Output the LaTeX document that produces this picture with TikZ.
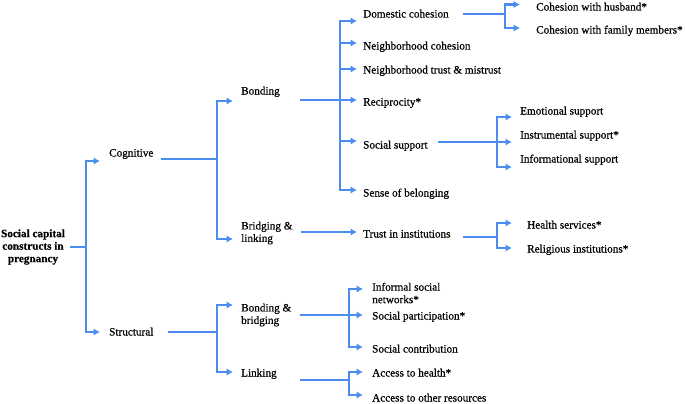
\documentclass[tikz,border=0pt]{standalone}
\usepackage{fontspec}
\setmainfont{Liberation Serif}[FakeBold=0.6]
\usetikzlibrary{arrows.meta}

\definecolor{linkblue}{RGB}{74,141,239}

\tikzset{
    item/.style={anchor=west, inner sep=0pt, text height=7.5pt, text depth=2.5pt, font=\fontsize{11.2}{12.5}\selectfont},
    items/.style={anchor=west, inner sep=0pt, align=left, font=\fontsize{11.2}{12.5}\selectfont},
    root/.style={align=center, inner sep=0pt, font=\bfseries\fontsize{11.2}{12.5}\selectfont},
    trunk/.style={draw=linkblue, line width=2.3pt, shorten <=#1},
    trunk/.default=7pt,
    branch/.style={draw=linkblue, line width=2.3pt, -{Latex[length=6.5pt,width=7.5pt]}},
}

\begin{document}
\begin{tikzpicture}[x=1pt, y=-1pt]
    \useasboundingbox (0,0) rectangle (685,404);

    % constructs
    \node[root] (scc) at (33,247) {Social capital\\constructs in\\pregnancy};
    \node[item] (cog) at (109,154) {Cognitive};
    \node[item] (struc) at (109,333) {Structural};

    \node[item] (bond) at (241,92) {Bonding};
    \node[items] (bridge) at (241,233) {Bridging \&\\linking};
    \node[items] (bondbr) at (241,315) {Bonding \&\\bridging};
    \node[item] (link) at (241,374) {Linking};

    \node[item] (dom) at (363,15) {Domestic cohesion};
    \node[item] (nbcoh) at (363,47) {Neighborhood cohesion};
    \node[item] (nbtrust) at (363,71) {Neighborhood trust \& mistrust};
    \node[item] (recip) at (363,103) {Reciprocity*};
    \node[item] (socsup) at (363,146) {Social support};
    \node[item] (belong) at (363,194) {Sense of belonging};
    \node[item] (trust) at (363,235) {Trust in institutions};
    \node[items] (informal) at (372,293) {Informal social\\networks*};
    \node[item] (partic) at (372,317) {Social participation*};
    \node[item] (contrib) at (372,350) {Social contribution};
    \node[item] (acchealth) at (372,374) {Access to health*};
    \node[item] (accother) at (372,399) {Access to other resources};

    \node[item] (husband) at (536,8) {Cohesion with husband*};
    \node[item] (family) at (536,31) {Cohesion with family members*};
    \node[item] (emo) at (520,112) {Emotional support};
    \node[item] (instr) at (520,136) {Instrumental support*};
    \node[item] (infsup) at (520,160) {Informational support};
    \node[item] (health) at (527,226) {Health services*};
    \node[item] (relig) at (527,250) {Religious institutions*};

    % junctions
    \coordinate (j0) at (86,247);
    \coordinate (j1) at (217,159);
    \coordinate (j2) at (217,332);
    \coordinate (j3) at (340,100);
    \coordinate (j4) at (340,232);
    \coordinate (j5) at (349,315);
    \coordinate (j6) at (349,380);
    \coordinate (j7) at (505,14);
    \coordinate (j8) at (497,142);
    \coordinate (j9) at (497,237);

    \draw[trunk=5pt] (j0 -| scc.east) -- (j0);
    \draw[trunk] (j1 -| cog.east) -- (j1);
    \draw[trunk=14pt] (j2 -| struc.east) -- (j2);
    \draw[trunk=20pt] (j3 -| bond.east) -- (j3);
    \draw[trunk=8pt] (j4 -| bridge.east) -- (j4);
    \draw[trunk=9pt] (j5 -| bondbr.east) -- (j5);
    \draw[trunk=23pt] (j6 -| link.east) -- (j6);
    \draw[trunk=14pt] (j7 -| dom.east) -- (j7);
    \draw[trunk=10pt] (j8 -| socsup.east) -- (j8);
    \draw[trunk=12pt] (j9 -| trust.east) -- (j9);

    \draw[branch] (j0) |- ([shift={(-9,7)}]cog.west);
    \draw[branch] (j0) |- ([shift={(-9,-1)}]struc.west);

    \draw[branch] (j1) |- ([shift={(-8,9)}]bond.west);
    \draw[branch] (j1) |- ([shift={(-8,6)}]bridge.west);
    \draw[branch] (j2) |- ([shift={(-8,-10)}]bondbr.west);
    \draw[branch] (j2) |- ([shift={(-8,-2)}]link.west);

    \draw[branch] (j3) |- ([shift={(-6,6)}]dom.west);
    \draw[branch] (j3) |- ([shift={(-6,-4)}]nbcoh.west);
    \draw[branch] (j3) |- ([shift={(-6,-2)}]nbtrust.west);
    \draw[branch] (j3) |- ([shift={(-6,-3)}]recip.west);
    \draw[branch] (j3) |- ([shift={(-6,-5)}]socsup.west);
    \draw[branch] (j3) |- ([shift={(-6,-4)}]belong.west);
    \draw[branch] (j4) |- ([shift={(-6,-3)}]trust.west);
    \draw[branch] (j5) |- ([shift={(-9,-4)}]informal.west);
    \draw[branch] (j5) |- ([shift={(-9,-2)}]partic.west);
    \draw[branch] (j5) |- ([shift={(-9,-3)}]contrib.west);
    \draw[branch] (j6) |- ([shift={(-9,-2)}]acchealth.west);
    \draw[branch] (j6) |- ([shift={(-9,-4)}]accother.west);

    \draw[branch] (j7) |- ([shift={(-16,-3.5)}]husband.west);
    \draw[branch] (j7) |- ([shift={(-16,-3)}]family.west);
    \draw[branch] (j8) |- ([shift={(-8,5)}]emo.west);
    \draw[branch] (j8) |- ([shift={(-8,6)}]instr.west);
    \draw[branch] (j8) |- ([shift={(-8,7)}]infsup.west);
    \draw[branch] (j9) |- ([shift={(-15,-3)}]health.west);
    \draw[branch] (j9) |- ([shift={(-15,-2)}]relig.west);
\end{tikzpicture}
\end{document}
